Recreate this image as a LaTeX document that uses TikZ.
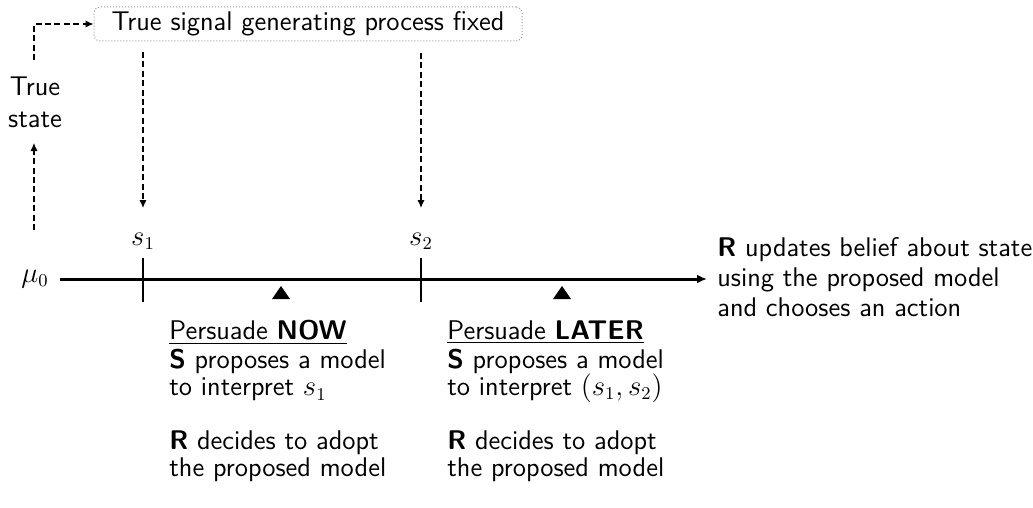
\documentclass[tikz,border=0pt]{standalone}
\usepackage{fontspec}
\usetikzlibrary{arrows.meta}
\begin{document}
\begin{tikzpicture}[x=0.5pt,y=-0.5pt,
  every node/.style={font=\sffamily\fontsize{13.5}{15}\selectfont},
  dasharrow/.style={line width=0.6pt, dash pattern=on 3pt off 1.7pt, -{Latex[length=4pt,width=3.6pt]}},
  sigbox/.style={draw=gray!80, densely dotted, line width=0.5pt, rounded corners=3pt,
    minimum width=214pt, minimum height=17pt, inner sep=0pt},
  tickline/.style={line width=0.9pt},
  marker/.style={fill=black},
  stage/.style={align=left, anchor=north west, inner sep=2pt,
    font=\sffamily\fontsize{13.5}{13.5}\selectfont}]
\useasboundingbox (0,0) rectangle (1033,508);

% signal generating process
\node[sigbox] (gen) at (308,24) {True signal generating process fixed};

% true state
\node[align=center, inner sep=1pt, font=\sffamily\fontsize{13.5}{16}\selectfont] (ts) at (35,102) {True\\state};
\coordinate (tsup) at (34,60);
\coordinate (tslow) at (34,230);
\coordinate (tsin) at (34,143);
\draw[dasharrow] (tsup) |- (gen.west);
\draw[dasharrow] (tslow) -- (tsin);

% timeline
\node (mu) at (35,279) {$\mu_0$};
\coordinate (l0) at (60,279);
\coordinate (l1) at (707,279);
\draw[line width=1.5pt, -{Latex[length=5pt,width=4.5pt]}] (l0) -- (l1);

\coordinate (t1a) at (143,258); \coordinate (t1b) at (143,302);
\coordinate (t2a) at (421,258); \coordinate (t2b) at (421,302);
\draw[tickline] (t1a) -- (t1b);
\draw[tickline] (t2a) -- (t2b);

\node (s1) at (143,241) {$s_1$};
\node (s2) at (421,241) {$s_2$};

\coordinate (g1) at (143,52); \coordinate (g1e) at (143,208);
\coordinate (g2) at (421,53); \coordinate (g2e) at (421,208);
\draw[dasharrow] (g1) -- (g1e);
\draw[dasharrow] (g2) -- (g2e);

% persuasion markers
\fill[marker] (272,299) -- (290,299) -- (281,286) -- cycle;
\fill[marker] (553,299) -- (571,299) -- (562,286) -- cycle;

% stage descriptions
\node[stage] (now) at (165,316) {\underline{Persuade \textbf{NOW}}\\[1pt]
  \textbf{S} proposes a model\\
  to interpret $s_1$\\[13.5pt]
  \textbf{R} decides to adopt\\
  the proposed model};
\node[stage] (later) at (443,316) {\underline{Persuade \textbf{LATER}}\\[1pt]
  \textbf{S} proposes a model\\
  to interpret $(s_1,s_2)$\\[13.5pt]
  \textbf{R} decides to adopt\\
  the proposed model};

\node[align=left, anchor=west, inner sep=2pt] (upd) at (713,277)
  {\textbf{R} updates belief about state\\
   using the proposed model\\
   and chooses an action};
\end{tikzpicture}
\end{document}
